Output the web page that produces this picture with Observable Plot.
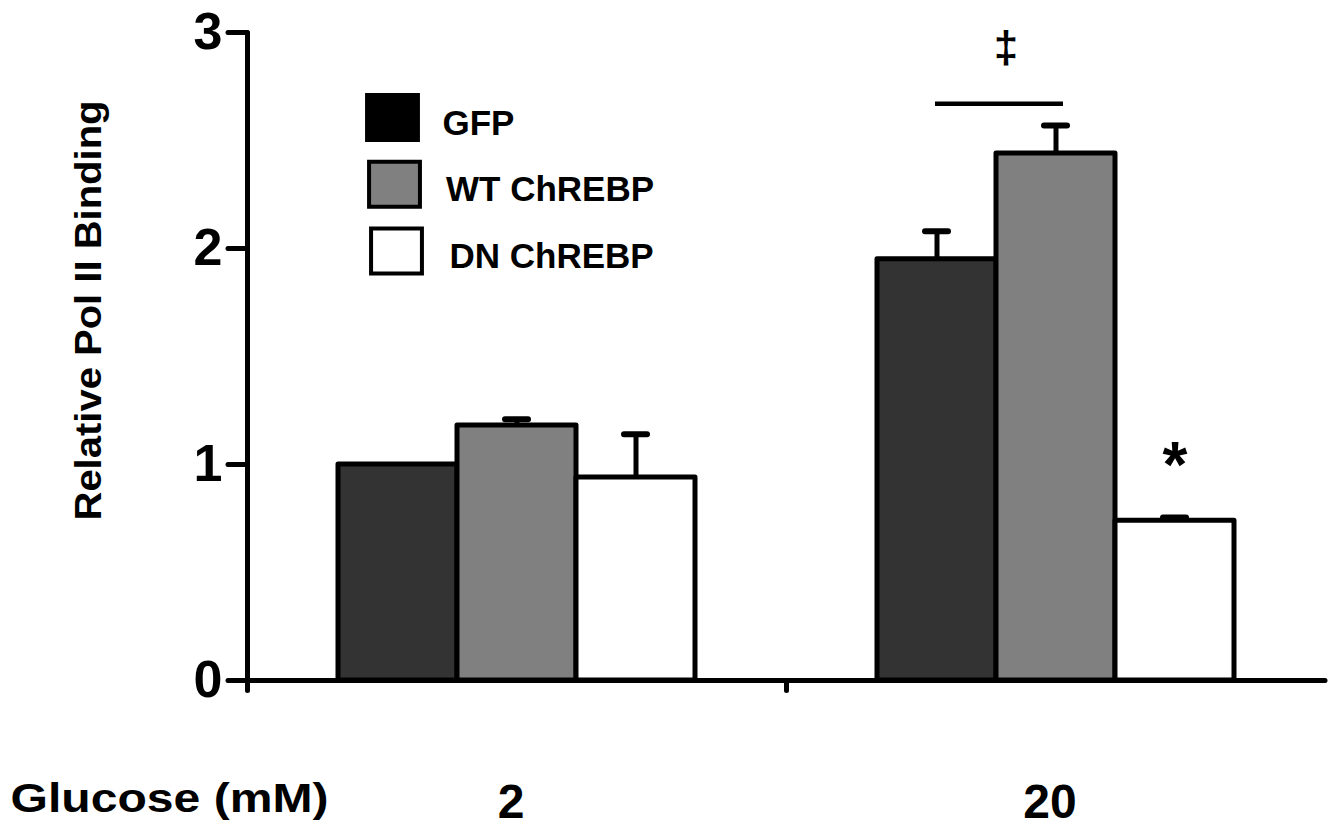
<!DOCTYPE html>
<html><head><meta charset="utf-8">
<script src="https://cdn.jsdelivr.net/npm/d3@7"></script>
<script src="https://cdn.jsdelivr.net/npm/@observablehq/plot@0.6"></script>
<style>html,body{margin:0;padding:0;background:#fff;}</style>
</head><body><div id="chart"></div>
<script>
const groups = ["2", "20"];
const series = ["GFP", "WT ChREBP", "DN ChREBP"];
const gfpMean = [1.00, 1.95];
const wtMean = [1.18, 2.44];
const dnMean = [0.94, 0.74];
const gfpSem = [0, 0.13];
const wtSem = [0.03, 0.13];
const dnSem = [0.20, 0.015];
const yTicks = [0, 1, 2, 3];
const xTitle = "Glucose (mM)";
const yTitle = "Relative Pol II Binding";
const barColors = ["#333333", "#808080", "#ffffff"];
const legendColors = ["#000000", "#808080", "#ffffff"];
const bracket = [{group: "20", from: "GFP", to: "WT ChREBP", y: 2.67}];
const dagger = [{group: "20", series: "WT ChREBP", y: 2.93, label: "\u2021"}];
const star = [{group: "20", series: "DN ChREBP", y: 0.99, label: "*"}];

const means = [gfpMean, wtMean, dnMean];
const sems = [gfpSem, wtSem, dnSem];
const data = groups.flatMap((g, gi) => series.map((s, si) => ({group: g, series: s, value: means[si][gi], err: sems[si][gi]})));
const errData = data.filter(d => d.err > 0);

const W = 1337, H = 834, mT = 32, mB = 154, mL = 247, mR = 12;
const innerH = H - mT - mB;

const legendBox = {draw(ctx, size) {
  const h = Math.sqrt(size) / 2, w = h * 1.13;
  ctx.moveTo(-w, -h); ctx.lineTo(w, -h); ctx.lineTo(w, h); ctx.lineTo(-w, h); ctx.closePath();
}};

const legendMarks = series.flatMap((s, i) => [
  Plot.dot([s], {fx: () => groups[0], frameAnchor: "top-left", dx: 145 + 2 * i, dy: 85 + 66.7 * i,
    r: 25.4, symbol: legendBox, fill: legendColors[i], stroke: "black", strokeWidth: 4}),
  Plot.text([s], {fx: () => groups[0], text: d => d, frameAnchor: "top-left", textAnchor: "start",
    lineAnchor: "middle", dx: 195 + 3.5 * i, dy: 91 + 66.5 * i, fontSize: 35})
]);

const chart = Plot.plot({
  width: W, height: H,
  marginLeft: mL, marginRight: mR, marginTop: mT, marginBottom: mB,
  style: {fontFamily: "'Liberation Sans', Arial, Helvetica, sans-serif", fontWeight: "bold", background: "white", color: "black", overflow: "visible"},
  fx: {domain: groups, padding: 0, axis: null, label: null},
  x: {domain: series, paddingInner: 0, paddingOuter: 0.746, axis: null, label: null},
  y: {domain: [0, 3], label: null},
  color: {domain: series, range: barColors},
  marks: [
    Plot.barY(data, {fx: "group", x: "series", y: "value", fill: "series", stroke: "black", strokeWidth: 5, strokeLinejoin: "round"}),
    Plot.ruleX(errData, {fx: "group", x: "series", y1: "value", y2: d => d.value + d.err, stroke: "black", strokeWidth: 5}),
    Plot.tickY(errData, {fx: "group", x: "series", y: d => d.value + d.err, insetLeft: 48, insetRight: 48, stroke: "black", strokeWidth: 6, strokeLinecap: "round"}),
    Plot.ruleY([0], {stroke: "black", strokeWidth: 5, strokeLinecap: "round"}),
    Plot.frame({anchor: "left", fx: groups[0], insetBottom: -10, stroke: "black", strokeWidth: 5, strokeLinecap: "round"}),
    Plot.frame({anchor: "left", fx: groups[1], insetTop: innerH, insetBottom: -10, stroke: "black", strokeWidth: 5, strokeLinecap: "round"}),
    Plot.axisY({ticks: yTicks, tickSize: 19, tickPadding: 6, fontSize: 52, strokeWidth: 5, strokeLinecap: "round", tickFormat: d => String(d), label: null}),
    Plot.ruleY(bracket, {fx: "group", x1: "from", x2: "to", y: "y", insetLeft: 58, insetRight: 52, stroke: "black", strokeWidth: 4.5}),
    Plot.text(dagger, {fx: "group", x: "series", y: "y", text: "label", dx: -50, lineAnchor: "middle", fontSize: 44}),
    Plot.text(star, {fx: "group", x: "series", y: "y", text: "label", lineAnchor: "middle", fontSize: 64}),
    Plot.text(groups, {fx: d => d, text: d => d, frameAnchor: "bottom", lineAnchor: "top", dx: -6, dy: 103, fontSize: 48}),
    Plot.text([xTitle], {fx: () => groups[0], text: d => d, frameAnchor: "bottom-left", textAnchor: "start", lineAnchor: "top", dx: 10 - mL, dy: 103, fontSize: 40}),
    Plot.text([yTitle], {fx: () => groups[0], text: d => d, frameAnchor: "left", rotate: -90, textAnchor: "middle", lineAnchor: "bottom", dx: 100 - mL, dy: -46, fontSize: 36}),
    ...legendMarks
  ]
});
document.getElementById("chart").append(chart);
d3.select(chart).selectAll("text").each(function() {
  const t = this.textContent;
  if (t === xTitle) { this.setAttribute("textLength", 318); this.setAttribute("lengthAdjust", "spacingAndGlyphs"); }
  if (t === yTitle) { this.setAttribute("textLength", 420); this.setAttribute("lengthAdjust", "spacingAndGlyphs"); }
});
</script>
</body></html>
